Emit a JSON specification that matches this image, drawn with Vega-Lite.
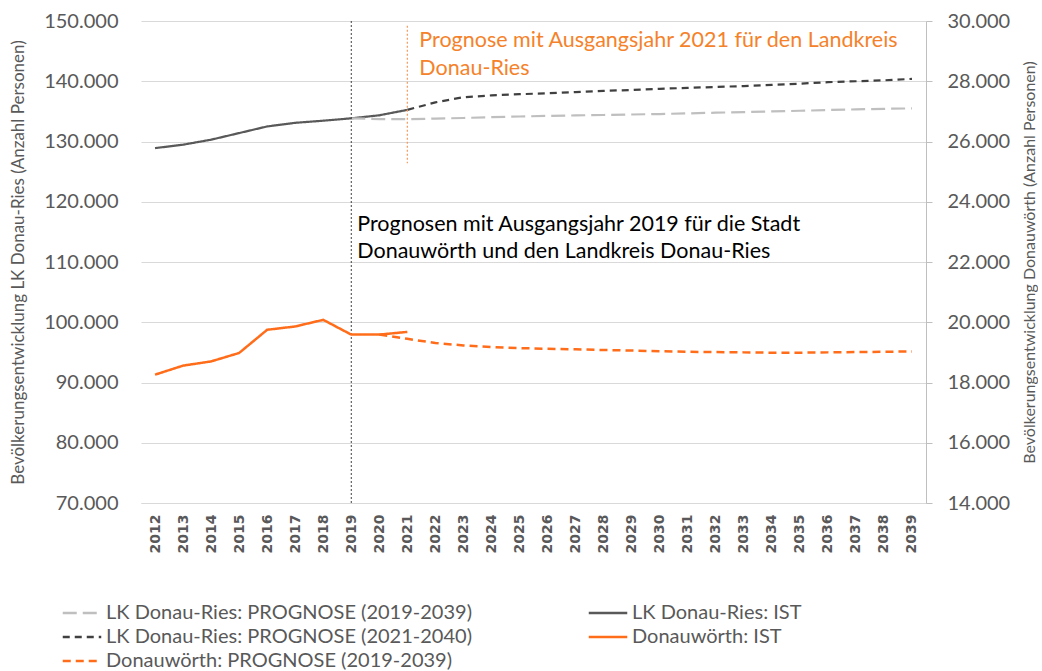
{
  "$schema": "https://vega.github.io/schema/vega-lite/v6.json",
  "width": 785,
  "height": 482,
  "padding": {"left": 9, "top": 11, "right": 0, "bottom": 0},
  "background": "white",
  "config": {
    "font": "Lato",
    "view": {"stroke": null},
    "axis": {"labelColor": "#595959", "titleColor": "#595959", "titleFontWeight": "normal"}
  },
  "data": {
    "values": [
      {"year": "2012", "series": "LK Donau-Ries: IST", "value": 128900},
      {"year": "2013", "series": "LK Donau-Ries: IST", "value": 129470},
      {"year": "2014", "series": "LK Donau-Ries: IST", "value": 130300},
      {"year": "2015", "series": "LK Donau-Ries: IST", "value": 131400},
      {"year": "2016", "series": "LK Donau-Ries: IST", "value": 132500},
      {"year": "2017", "series": "LK Donau-Ries: IST", "value": 133100},
      {"year": "2018", "series": "LK Donau-Ries: IST", "value": 133450},
      {"year": "2019", "series": "LK Donau-Ries: IST", "value": 133850},
      {"year": "2020", "series": "LK Donau-Ries: IST", "value": 134350},
      {"year": "2021", "series": "LK Donau-Ries: IST", "value": 135250},

      {"year": "2019", "series": "LK Donau-Ries: PROGNOSE (2019-2039)", "value": 133850},
      {"year": "2020", "series": "LK Donau-Ries: PROGNOSE (2019-2039)", "value": 133720},
      {"year": "2021", "series": "LK Donau-Ries: PROGNOSE (2019-2039)", "value": 133700},
      {"year": "2022", "series": "LK Donau-Ries: PROGNOSE (2019-2039)", "value": 133800},
      {"year": "2023", "series": "LK Donau-Ries: PROGNOSE (2019-2039)", "value": 133900},
      {"year": "2024", "series": "LK Donau-Ries: PROGNOSE (2019-2039)", "value": 134050},
      {"year": "2025", "series": "LK Donau-Ries: PROGNOSE (2019-2039)", "value": 134150},
      {"year": "2026", "series": "LK Donau-Ries: PROGNOSE (2019-2039)", "value": 134250},
      {"year": "2027", "series": "LK Donau-Ries: PROGNOSE (2019-2039)", "value": 134330},
      {"year": "2028", "series": "LK Donau-Ries: PROGNOSE (2019-2039)", "value": 134400},
      {"year": "2029", "series": "LK Donau-Ries: PROGNOSE (2019-2039)", "value": 134480},
      {"year": "2030", "series": "LK Donau-Ries: PROGNOSE (2019-2039)", "value": 134560},
      {"year": "2031", "series": "LK Donau-Ries: PROGNOSE (2019-2039)", "value": 134670},
      {"year": "2032", "series": "LK Donau-Ries: PROGNOSE (2019-2039)", "value": 134780},
      {"year": "2033", "series": "LK Donau-Ries: PROGNOSE (2019-2039)", "value": 134880},
      {"year": "2034", "series": "LK Donau-Ries: PROGNOSE (2019-2039)", "value": 134990},
      {"year": "2035", "series": "LK Donau-Ries: PROGNOSE (2019-2039)", "value": 135100},
      {"year": "2036", "series": "LK Donau-Ries: PROGNOSE (2019-2039)", "value": 135220},
      {"year": "2037", "series": "LK Donau-Ries: PROGNOSE (2019-2039)", "value": 135330},
      {"year": "2038", "series": "LK Donau-Ries: PROGNOSE (2019-2039)", "value": 135420},
      {"year": "2039", "series": "LK Donau-Ries: PROGNOSE (2019-2039)", "value": 135500},

      {"year": "2021", "series": "LK Donau-Ries: PROGNOSE (2021-2040)", "value": 135250},
      {"year": "2022", "series": "LK Donau-Ries: PROGNOSE (2021-2040)", "value": 136500},
      {"year": "2023", "series": "LK Donau-Ries: PROGNOSE (2021-2040)", "value": 137350},
      {"year": "2024", "series": "LK Donau-Ries: PROGNOSE (2021-2040)", "value": 137650},
      {"year": "2025", "series": "LK Donau-Ries: PROGNOSE (2021-2040)", "value": 137850},
      {"year": "2026", "series": "LK Donau-Ries: PROGNOSE (2021-2040)", "value": 138000},
      {"year": "2027", "series": "LK Donau-Ries: PROGNOSE (2021-2040)", "value": 138200},
      {"year": "2028", "series": "LK Donau-Ries: PROGNOSE (2021-2040)", "value": 138400},
      {"year": "2029", "series": "LK Donau-Ries: PROGNOSE (2021-2040)", "value": 138550},
      {"year": "2030", "series": "LK Donau-Ries: PROGNOSE (2021-2040)", "value": 138750},
      {"year": "2031", "series": "LK Donau-Ries: PROGNOSE (2021-2040)", "value": 138900},
      {"year": "2032", "series": "LK Donau-Ries: PROGNOSE (2021-2040)", "value": 139050},
      {"year": "2033", "series": "LK Donau-Ries: PROGNOSE (2021-2040)", "value": 139200},
      {"year": "2034", "series": "LK Donau-Ries: PROGNOSE (2021-2040)", "value": 139400},
      {"year": "2035", "series": "LK Donau-Ries: PROGNOSE (2021-2040)", "value": 139600},
      {"year": "2036", "series": "LK Donau-Ries: PROGNOSE (2021-2040)", "value": 139850},
      {"year": "2037", "series": "LK Donau-Ries: PROGNOSE (2021-2040)", "value": 140000},
      {"year": "2038", "series": "LK Donau-Ries: PROGNOSE (2021-2040)", "value": 140150},
      {"year": "2039", "series": "LK Donau-Ries: PROGNOSE (2021-2040)", "value": 140400},

      {"year": "2012", "series": "Donauwörth: IST", "value": 18260},
      {"year": "2013", "series": "Donauwörth: IST", "value": 18560},
      {"year": "2014", "series": "Donauwörth: IST", "value": 18700},
      {"year": "2015", "series": "Donauwörth: IST", "value": 18980},
      {"year": "2016", "series": "Donauwörth: IST", "value": 19750},
      {"year": "2017", "series": "Donauwörth: IST", "value": 19860},
      {"year": "2018", "series": "Donauwörth: IST", "value": 20080},
      {"year": "2019", "series": "Donauwörth: IST", "value": 19590},
      {"year": "2020", "series": "Donauwörth: IST", "value": 19590},
      {"year": "2021", "series": "Donauwörth: IST", "value": 19680},

      {"year": "2020", "series": "Donauwörth: PROGNOSE (2019-2039)", "value": 19590},
      {"year": "2021", "series": "Donauwörth: PROGNOSE (2019-2039)", "value": 19450},
      {"year": "2022", "series": "Donauwörth: PROGNOSE (2019-2039)", "value": 19310},
      {"year": "2023", "series": "Donauwörth: PROGNOSE (2019-2039)", "value": 19230},
      {"year": "2024", "series": "Donauwörth: PROGNOSE (2019-2039)", "value": 19180},
      {"year": "2025", "series": "Donauwörth: PROGNOSE (2019-2039)", "value": 19140},
      {"year": "2026", "series": "Donauwörth: PROGNOSE (2019-2039)", "value": 19120},
      {"year": "2027", "series": "Donauwörth: PROGNOSE (2019-2039)", "value": 19100},
      {"year": "2028", "series": "Donauwörth: PROGNOSE (2019-2039)", "value": 19080},
      {"year": "2029", "series": "Donauwörth: PROGNOSE (2019-2039)", "value": 19060},
      {"year": "2030", "series": "Donauwörth: PROGNOSE (2019-2039)", "value": 19040},
      {"year": "2031", "series": "Donauwörth: PROGNOSE (2019-2039)", "value": 19020},
      {"year": "2032", "series": "Donauwörth: PROGNOSE (2019-2039)", "value": 19010},
      {"year": "2033", "series": "Donauwörth: PROGNOSE (2019-2039)", "value": 19000},
      {"year": "2034", "series": "Donauwörth: PROGNOSE (2019-2039)", "value": 18990},
      {"year": "2035", "series": "Donauwörth: PROGNOSE (2019-2039)", "value": 18990},
      {"year": "2036", "series": "Donauwörth: PROGNOSE (2019-2039)", "value": 19000},
      {"year": "2037", "series": "Donauwörth: PROGNOSE (2019-2039)", "value": 19010},
      {"year": "2038", "series": "Donauwörth: PROGNOSE (2019-2039)", "value": 19020},
      {"year": "2039", "series": "Donauwörth: PROGNOSE (2019-2039)", "value": 19030}
    ]
  },
  "layer": [
    {
      "layer": [
        {
          "transform": [{"filter": {"field": "series", "oneOf": ["LK Donau-Ries: IST", "LK Donau-Ries: PROGNOSE (2019-2039)", "LK Donau-Ries: PROGNOSE (2021-2040)"]}}],
          "mark": {"type": "line", "strokeWidth": 2.2},
          "encoding": {
            "x": {
              "field": "year", "type": "ordinal", "title": null,
              "scale": {"type": "point", "padding": 0.5},
              "axis": {"labelAngle": -90, "labelFont": "DejaVu Sans", "labelFontSize": 14, "labelFontWeight": "bold", "labelPadding": 11, "ticks": false, "domainColor": "#D9D9D9", "grid": false}
            },
            "y": {
              "field": "value", "type": "quantitative",
              "scale": {"domain": [70000, 150000], "nice": false, "zero": false},
              "axis": {
                "title": "Bevölkerungsentwicklung LK Donau-Ries (Anzahl Personen)",
                "titleFontSize": 17, "titlePadding": 16,
                "values": [70000, 80000, 90000, 100000, 110000, 120000, 130000, 140000, 150000],
                "labelExpr": "replace(format(datum.value, ',.0f'), ',', '.')",
                "labelFontSize": 20, "labelPadding": 23,
                "grid": true, "gridColor": "#D9D9D9", "domain": false, "ticks": false
              }
            },
            "color": {
              "field": "series", "type": "nominal",
              "scale": {
                "domain": ["LK Donau-Ries: PROGNOSE (2019-2039)", "LK Donau-Ries: PROGNOSE (2021-2040)", "Donauwörth: PROGNOSE (2019-2039)", "LK Donau-Ries: IST", "Donauwörth: IST"],
                "range": ["#BFBFBF", "#404040", "#FF6D1A", "#595959", "#FF6D1A"]
              },
              "legend": {
                "title": null, "orient": "none", "legendX": -69, "legendY": 582,
                "columns": 2, "columnPadding": 111, "rowPadding": 4,
                "symbolType": "M-2.75,0H2.75", "symbolSize": 196, "symbolStrokeWidth": 2.5,
                "labelFontSize": 20, "labelColor": "#595959", "labelOffset": 14, "labelLimit": 600
              }
            },
            "strokeDash": {
              "field": "series", "type": "nominal",
              "scale": {
                "domain": ["LK Donau-Ries: PROGNOSE (2019-2039)", "LK Donau-Ries: PROGNOSE (2021-2040)", "Donauwörth: PROGNOSE (2019-2039)", "LK Donau-Ries: IST", "Donauwörth: IST"],
                "range": [[14, 6], [7, 5], [8, 5], [1, 0], [1, 0]]
              }
            }
          }
        },
        {
          "data": {"values": [{}]},
          "mark": {"type": "rule", "color": "#404040", "strokeWidth": 1, "strokeDash": [2, 2]},
          "encoding": {"x": {"datum": "2019", "type": "ordinal"}}
        },
        {
          "data": {"values": [{}]},
          "mark": {"type": "rule", "color": "#F79A5A", "strokeWidth": 1.2, "strokeDash": [2, 2]},
          "encoding": {
            "x": {"datum": "2021", "type": "ordinal"},
            "y": {"datum": 149200, "type": "quantitative"},
            "y2": {"datum": 126400}
          }
        },
        {
          "data": {"values": [{}]},
          "mark": {"type": "text", "align": "left", "baseline": "alphabetic", "dx": 6, "fontSize": 21.5, "lineHeight": 27, "color": "#000000",
                   "text": ["Prognosen mit Ausgangsjahr 2019 für die Stadt", "Donauwörth und den Landkreis Donau-Ries"]},
          "encoding": {
            "x": {"datum": "2019", "type": "ordinal"},
            "y": {"datum": 115150, "type": "quantitative"}
          }
        },
        {
          "data": {"values": [{}]},
          "mark": {"type": "text", "align": "left", "baseline": "alphabetic", "dx": 12, "fontSize": 21.5, "lineHeight": 28, "color": "#F5822A",
                   "text": ["Prognose mit Ausgangsjahr 2021 für den Landkreis", "Donau-Ries"]},
          "encoding": {
            "x": {"datum": "2021", "type": "ordinal"},
            "y": {"datum": 145700, "type": "quantitative"}
          }
        }
      ]
    },
    {
      "transform": [{"filter": {"field": "series", "oneOf": ["Donauwörth: IST", "Donauwörth: PROGNOSE (2019-2039)"]}}],
      "mark": {"type": "line", "strokeWidth": 2.5},
      "encoding": {
        "x": {"field": "year", "type": "ordinal"},
        "y": {
          "field": "value", "type": "quantitative",
          "scale": {"domain": [14000, 30000], "nice": false, "zero": false},
          "axis": {
            "orient": "right",
            "title": "Bevölkerungsentwicklung Donauwörth (Anzahl Personen)",
            "titleFontSize": 16, "titlePadding": 12, "titleAngle": 270, "titleBaseline": "top",
            "values": [14000, 16000, 18000, 20000, 22000, 24000, 26000, 28000, 30000],
            "labelExpr": "replace(format(datum.value, ',.0f'), ',', '.')",
            "labelFontSize": 20, "labelPadding": 15,
            "grid": false, "domain": true, "domainColor": "#BFBFBF", "ticks": true, "tickSize": 6, "tickColor": "#BFBFBF"
          }
        },
        "color": {"field": "series", "type": "nominal"},
        "strokeDash": {"field": "series", "type": "nominal"}
      }
    }
  ],
  "resolve": {"scale": {"y": "independent"}}
}
